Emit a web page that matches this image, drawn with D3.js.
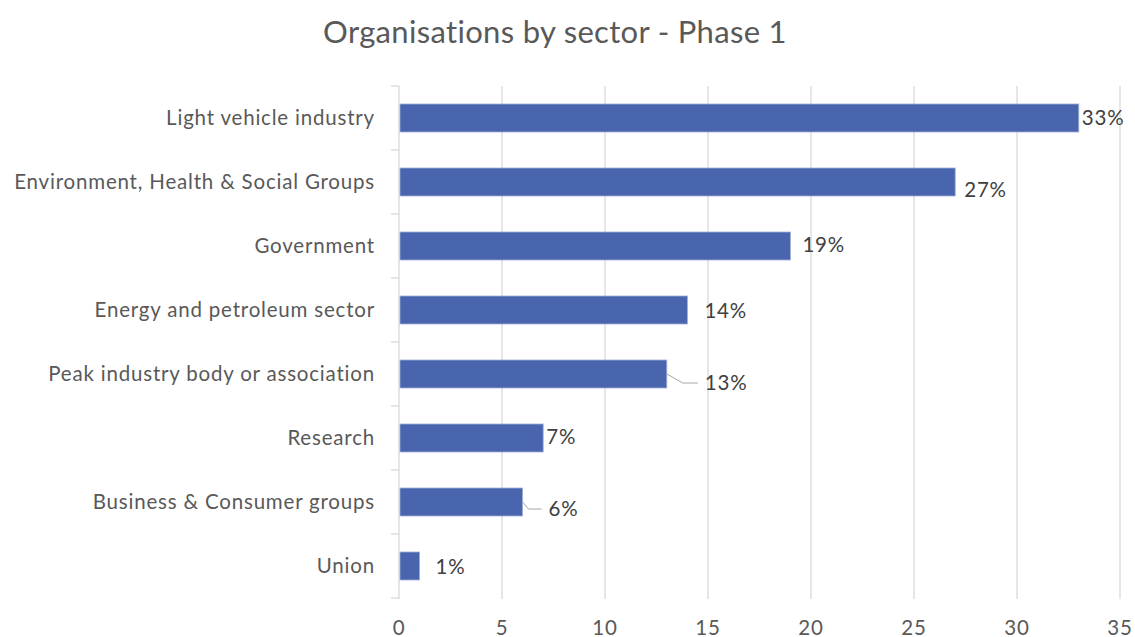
<!DOCTYPE html>
<html><head><meta charset="utf-8">
<script src="https://cdn.jsdelivr.net/npm/d3@7"></script>
<style>body{margin:0;background:#fff;} svg{display:block;}</style>
</head><body>
<svg id="c" width="1135" height="637"></svg>
<script>
const title = "Organisations by sector - Phase 1";
const categories = ["Light vehicle industry","Environment, Health & Social Groups","Government","Energy and petroleum sector","Peak industry body or association","Research","Business & Consumer groups","Union"];
const values = [33,27,19,14,13,7,6,1];
const labels = ["33%","27%","19%","14%","13%","7%","6%","1%"];
const xTicks = [0,5,10,15,20,25,30,35];
// manual label nudges (px) as placed in the original
const labelDx = [3,9,12,17,38,3,26,16];
const labelDy = [0,8,-1,1,9,-1,7,1];
const leader = [false,false,false,false,true,false,true,false];

const font = "Lato, 'Open Sans', sans-serif";
const svg = d3.select("#c");
const m = {left:399, right:1120, top:86, bottom:598};
const x = d3.scaleLinear().domain([0,35]).range([m.left,m.right]);
const y = d3.scaleBand().domain(categories).range([m.top,m.bottom]).paddingInner(0.5625).paddingOuter(0.28125);
const yb = d3.scaleBand().domain(categories).range([m.top,m.bottom]);

function fitSpacing(sel, target){
  const node = sel.node();
  const w = node.getComputedTextLength();
  const n = node.textContent.length;
  return (target - w)/(n-1);
}

// title
const t = svg.append("text").attr("x",555).attr("y",43).attr("text-anchor","middle")
  .attr("font-family",font).attr("font-size",31).attr("fill","#595959").text(title);
const tls = fitSpacing(t,464);
t.attr("letter-spacing",tls);

// gridlines
svg.append("g").selectAll("line").data(xTicks.slice(1)).join("line")
  .attr("x1",d=>x(d)).attr("x2",d=>x(d)).attr("y1",m.top).attr("y2",m.bottom+1)
  .attr("stroke","#d9d9d9").attr("stroke-width",1.3);

// y axis line + ticks at band boundaries
svg.append("line").attr("x1",x(0)).attr("x2",x(0)).attr("y1",m.top).attr("y2",m.bottom+1)
  .attr("stroke","#d9d9d9").attr("stroke-width",1.3);
const bounds = categories.map(c=>yb(c)).concat([m.bottom]);
svg.append("g").selectAll("line").data(bounds).join("line")
  .attr("x1",x(0)-8).attr("x2",x(0)).attr("y1",d=>d).attr("y2",d=>d)
  .attr("stroke","#d9d9d9").attr("stroke-width",1.3);

// category labels
const cl = svg.append("g").selectAll("text").data(categories).join("text")
  .attr("x",x(0)-24).attr("y",d=>yb(d)+yb.bandwidth()/2).attr("dy","0.35em")
  .attr("text-anchor","end").attr("font-family",font).attr("font-size",20.5).attr("fill","#595959")
  .text(d=>d);
const cls = fitSpacing(cl.filter((d,i)=>i===1),360);
cl.attr("letter-spacing",cls);

// x tick labels
svg.append("g").selectAll("text").data(xTicks).join("text")
  .attr("x",d=>x(d)).attr("y",635).attr("text-anchor","middle")
  .attr("font-family",font).attr("font-size",20.5).attr("fill","#595959").attr("letter-spacing",cls).text(d=>d);

// bars
svg.append("g").selectAll("rect").data(categories).join("rect")
  .attr("x",x(0)+1).attr("y",d=>y(d)).attr("height",y.bandwidth())
  .attr("width",(d,i)=>x(values[i])-x(0)-1)
  .attr("fill","#4865ad").attr("stroke","#9fb0da").attr("stroke-width",0.8);

// leader lines
categories.forEach((c,i)=>{
  if(!leader[i]) return;
  const x0 = x(values[i]), y0 = yb(c)+yb.bandwidth()/2;
  const x2 = x0+labelDx[i]-7, yL = y0+labelDy[i];
  svg.append("path").attr("d",`M${x0},${y0} L${x0+ (labelDx[i]>30?16:6)},${yL} L${x2},${yL}`)
    .attr("fill","none").attr("stroke","#a6a6a6").attr("stroke-width",1);
});

// value labels
svg.append("g").selectAll("text").data(categories).join("text")
  .attr("x",(d,i)=>x(values[i])+labelDx[i])
  .attr("y",(d,i)=>yb(d)+yb.bandwidth()/2+labelDy[i]).attr("dy","0.35em")
  .attr("font-family",font).attr("font-size",20.5).attr("fill","#404040").attr("letter-spacing",cls)
  .text((d,i)=>labels[i]);
</script>
</body></html>
